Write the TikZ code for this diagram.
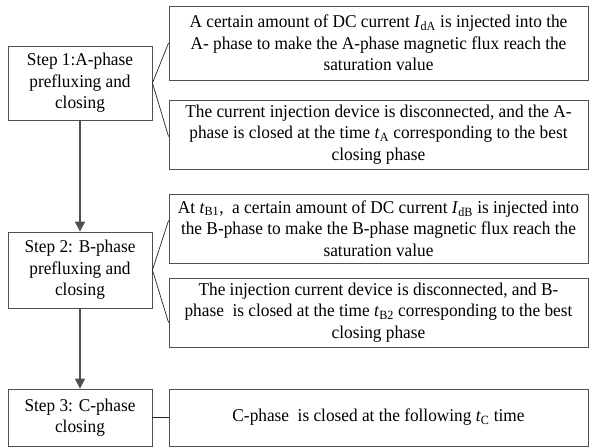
\documentclass[tikz,border=0pt]{standalone}
\usepackage{fontspec}
\setmainfont{Liberation Serif}[FakeStretch=0.96]
\usetikzlibrary{arrows.meta}
\definecolor{edge}{HTML}{505050}
\newcommand{\sbs}[1]{\textsubscript{#1}}
\begin{document}
\begin{tikzpicture}[x=1pt,y=-1pt,
  box/.style={draw=edge, line width=0.9pt, inner sep=0pt, align=center,
    font=\fontsize{18}{21.5}\selectfont},
  stepbox/.style={box, minimum width=144pt},
  infobox/.style={box, minimum width=419pt},
  fan/.style={draw=black!85, line width=0.7pt},
  flow/.style={draw=edge, line width=1.3pt, -{Triangle[length=10pt,width=10pt]}}]
\useasboundingbox (0,0) rectangle (590,447);
\node[stepbox, minimum height=74pt] (s1) at (80,83) {Step 1:A-phase\\prefluxing and\\closing};
\node[stepbox, minimum height=76pt] (s2) at (80,270) {Step 2: B-phase\\prefluxing and\\closing};
\node[stepbox, minimum height=57pt] (s3) at (80,417.5) {Step 3: C-phase\\closing};
\node[infobox, minimum height=74pt] (r1) at (378.5,43) {A certain amount of DC current \textit{I}\sbs{dA} is injected into the\\A- phase to make the A-phase magnetic flux reach the\\saturation value};
\node[infobox, minimum height=69pt] (r2) at (378.5,134.5) {The current injection device is disconnected, and the A-\\phase is closed at the time \textit{t}\sbs{A} corresponding to the best\\closing phase};
\node[infobox, minimum height=69pt] (r3) at (378.5,228.5) {At \textit{t}\sbs{B1},\ \ a certain amount of DC current \textit{I}\sbs{dB} is injected into\\the B-phase to make the B-phase magnetic flux reach the\\saturation value};
\node[infobox, minimum height=69pt] (r4) at (378.5,312.5) {The injection current device is disconnected, and B-\\phase\ \ is closed at the time \textit{t}\sbs{B2} corresponding to the best\\closing phase};
\node[infobox, minimum height=57pt] (r5) at (378.5,417.5) {C-phase\ \ is closed at the following \textit{t}\sbs{C} time};
\draw[fan] (r1.west) -- (s1.east) -- ([yshift=-2pt]r2.west);
\draw[fan] ([yshift=8pt]r3.west) -- (s2.east) -- ([yshift=-10pt]r4.west);
\draw[fan] (s3.east) -- (r5.west);
\draw[flow] (s1.south) -- (s2.north);
\draw[flow] (s2.south) -- (s3.north);
\end{tikzpicture}
\end{document}
